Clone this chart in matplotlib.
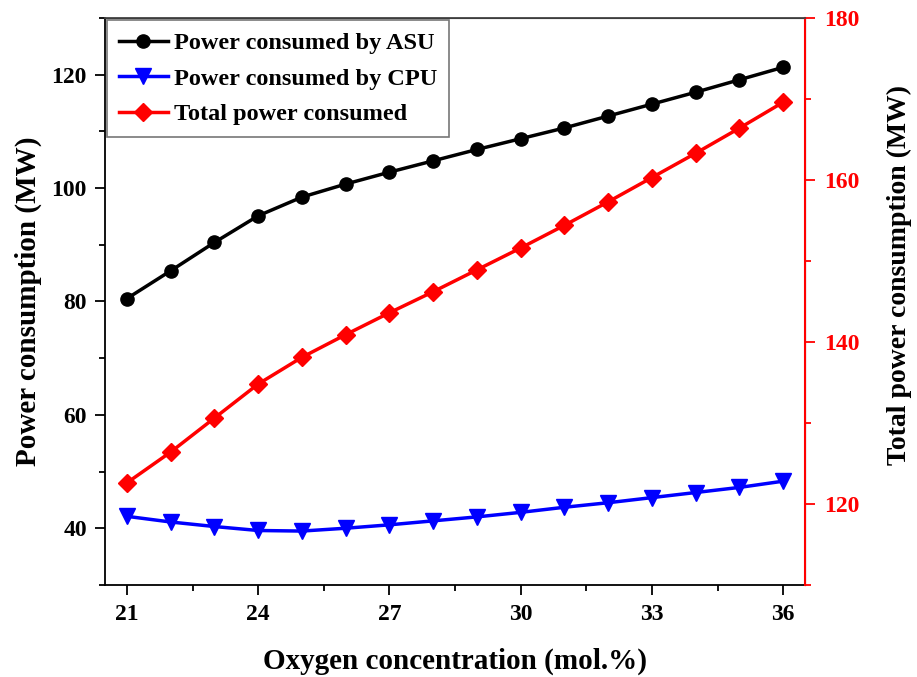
import matplotlib
matplotlib.use("Agg")
import matplotlib.pyplot as plt
from matplotlib.ticker import MultipleLocator

plt.rcParams["font.family"] = ["Liberation Serif", "DejaVu Serif"]
plt.rcParams["font.weight"] = "bold"

# oxygen concentration (mol.%)
oxygen = [21, 22, 23, 24, 25, 26, 27, 28, 29, 30, 31, 32, 33, 34, 35, 36]
asu_power = [80.5, 85.4, 90.4, 95.1, 98.4, 100.7, 102.8, 104.8, 106.8, 108.7,
             110.6, 112.7, 114.8, 116.9, 119.1, 121.3]
cpu_power = [42.1, 41.1, 40.3, 39.6, 39.5, 40.0, 40.6, 41.3, 42.0, 42.8,
             43.7, 44.5, 45.4, 46.3, 47.2, 48.3]
total_power = [122.6, 126.4, 130.6, 134.8, 138.1, 140.9, 143.6, 146.2, 148.9,
               151.6, 154.4, 157.3, 160.3, 163.3, 166.4, 169.6]

fig = plt.figure(figsize=(9.17, 6.77), dpi=100)
ax = fig.add_axes([0.1145, 0.136, 0.7635, 0.8375])
ax2 = ax.twinx()

l1, = ax.plot(oxygen, asu_power, color="black", lw=2.5, marker="o", ms=9.5,
              label="Power consumed by ASU")
l2, = ax.plot(oxygen, cpu_power, color="blue", lw=2.5, marker="v", ms=11,
              label="Power consumed by CPU")
l3, = ax2.plot(oxygen, total_power, color="red", lw=2.5, marker="D", ms=9,
               label="Total power consumed")

ax.set_xlim(20.5, 36.5)
ax.set_ylim(30, 130)
ax2.set_ylim(110, 180)

ax.xaxis.set_major_locator(MultipleLocator(3))
ax.xaxis.set_minor_locator(MultipleLocator(1.5))
ax.yaxis.set_major_locator(MultipleLocator(20))
ax.yaxis.set_minor_locator(MultipleLocator(10))
ax2.yaxis.set_major_locator(MultipleLocator(20))
ax2.yaxis.set_minor_locator(MultipleLocator(10))

ax.tick_params(axis="both", which="major", direction="out", length=7, width=1.3,
               labelsize=17)
ax.tick_params(axis="x", which="major", pad=7)
ax.tick_params(axis="y", which="major", pad=6)
ax.tick_params(axis="both", which="minor", direction="out", length=4, width=1.3)
ax2.tick_params(axis="y", which="major", direction="out", length=7, width=1.3,
                labelsize=17, colors="red", pad=7)
ax2.tick_params(axis="y", which="minor", direction="out", length=4, width=1.3,
                colors="red")

for lab in ax.get_xticklabels() + ax.get_yticklabels() + ax2.get_yticklabels():
    lab.set_fontweight("bold")

for s in ["left", "bottom"]:
    ax.spines[s].set_linewidth(1.3)
ax2.spines["right"].set_color("red")
ax2.spines["right"].set_linewidth(1.5)
ax2.spines["top"].set_color("#444444")
ax2.spines["top"].set_linewidth(1.3)
ax2.spines["left"].set_visible(False)
ax2.spines["bottom"].set_visible(False)

ax.set_xlabel("Oxygen concentration (mol.%)", fontsize=21, fontweight="bold",
              labelpad=16)
ax.set_ylabel("Power consumption (MW)", fontsize=21, fontweight="bold",
              labelpad=7)
ax2.set_ylabel("Total power consumption (MW)", fontsize=20, fontweight="bold")
ax2.yaxis.set_label_coords(1.117, 0.547)

leg = ax.legend(handles=[l1, l2, l3], loc="upper left",
                bbox_to_anchor=(0.0, 1.0), fontsize=17.5, frameon=True,
                fancybox=False, handlelength=2.0,
                borderaxespad=0.08, labelspacing=0.56, handletextpad=0.25,
                borderpad=0.5)
leg.get_frame().set_edgecolor("#555555")
leg.get_frame().set_linewidth(1.2)
for t in leg.get_texts():
    t.set_fontweight("bold")

fig.savefig("out.png", dpi=100)
